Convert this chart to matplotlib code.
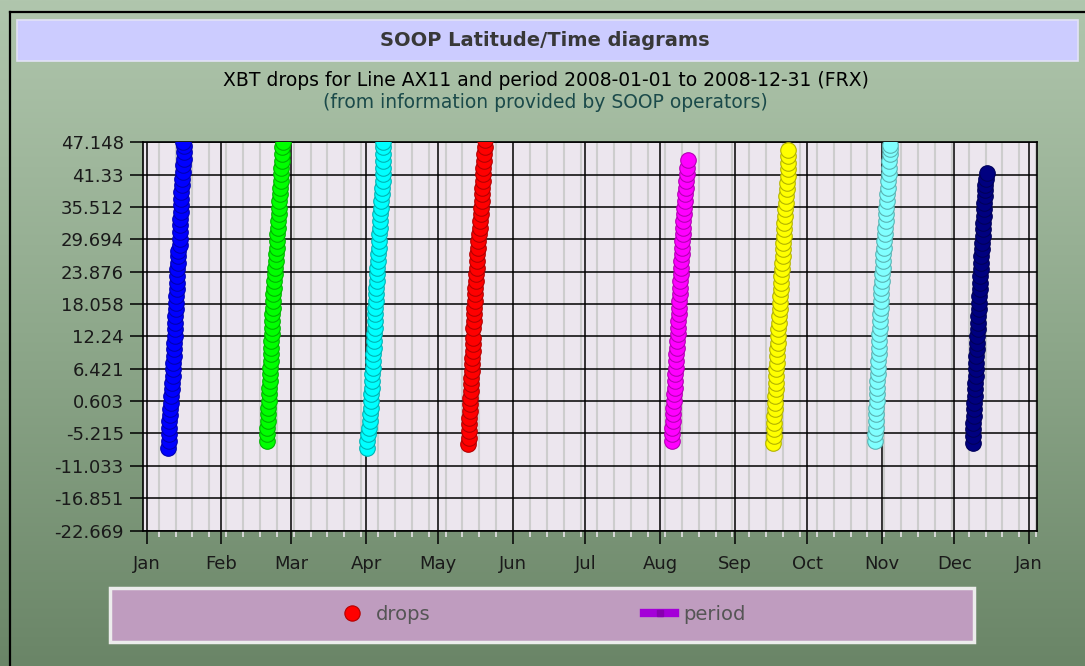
import matplotlib
matplotlib.use('Agg')
import matplotlib.pyplot as plt
import matplotlib.dates as mdates
from matplotlib.patches import Rectangle
from matplotlib.lines import Line2D
from matplotlib.colors import LinearSegmentedColormap, to_rgb
import numpy as np
import pandas as pd

# XBT drops on line AX11, 2008: (days after 2008-01-01, latitude) for each drop, one list per crossing
start = pd.Timestamp('2008-01-01')

jan_drops = [(8.96, -7.8), (9.08, -6.6), (9.2, -5.4), (9.33, -4.2), (9.45, -3.0), (9.58, -1.9), (9.7, -0.9),
             (10.05, 0.3), (10.2, 1.5), (10.38, 2.7), (10.55, 3.9), (10.72, 5.1), (10.9, 6.3), (11.05, 7.5),
             (11.18, 8.7), (11.3, 9.9), (11.42, 11.1), (11.55, 12.3), (11.68, 13.5), (11.8, 14.7), (11.92, 15.9),
             (12.04, 17.1), (12.16, 18.3), (12.28, 19.5), (12.4, 20.7), (12.52, 21.9), (12.65, 23.1), (12.78, 24.3),
             (12.91, 25.5), (13.04, 26.7), (13.12, 27.6), (13.8, 28.6), (13.85, 29.8), (13.9, 31.0), (13.95, 32.2),
             (14.0, 33.4), (14.05, 34.6), (14.12, 35.8), (14.27, 37.0), (14.42, 38.2), (14.57, 39.4), (14.72, 40.6),
             (14.9, 41.8), (15.1, 43.0), (15.3, 44.2), (15.5, 45.4), (15.35, 46.4), (15.2, 47.2)]

feb_drops = [(49.78, -6.6), (49.93, -5.4), (50.09, -4.2), (50.25, -3.0), (50.4, -1.8), (50.52, -0.6), (50.63, 0.6),
             (50.75, 1.8), (50.87, 3.0), (51.0, 4.2), (51.12, 5.4), (51.25, 6.6), (51.38, 7.8), (51.51, 9.0),
             (51.64, 10.2), (51.77, 11.4), (51.88, 12.6), (51.98, 13.8), (52.08, 15.0), (52.19, 16.2), (52.29, 17.4),
             (52.4, 18.6), (52.5, 19.8), (52.75, 21.0), (53.0, 22.2), (53.27, 23.4), (53.42, 24.6), (53.58, 25.8),
             (53.74, 27.0), (53.9, 28.2), (54.04, 29.4), (54.2, 30.6), (54.37, 31.8), (54.54, 33.0), (54.7, 34.2),
             (54.88, 35.4), (55.05, 36.6), (55.22, 37.8), (55.39, 39.0), (55.55, 40.2), (55.72, 41.4), (55.89, 42.6),
             (56.05, 43.8), (56.17, 45.0), (56.3, 46.2), (56.41, 47.2)]

apr_drops = [(91.26, -7.8), (91.58, -6.6), (91.9, -5.4), (92.22, -4.2), (92.55, -3.0), (92.73, -1.8), (92.87, -0.6),
             (93.01, 0.6), (93.15, 1.8), (93.3, 3.0), (93.43, 4.2), (93.57, 5.4), (93.7, 6.6), (93.83, 7.8),
             (93.97, 9.0), (94.1, 10.2), (94.24, 11.4), (94.38, 12.6), (94.52, 13.8), (94.68, 15.0), (94.8, 16.2),
             (94.92, 17.4), (95.04, 18.6), (95.16, 19.8), (95.28, 21.0), (95.4, 22.2), (95.54, 23.4), (95.7, 24.6),
             (95.86, 25.8), (96.04, 27.0), (96.18, 28.2), (96.32, 29.4), (96.47, 30.6), (96.61, 31.8), (96.76, 33.0),
             (96.95, 34.2), (97.15, 35.4), (97.35, 36.6), (97.54, 37.8), (97.7, 39.0), (97.87, 40.2), (98.04, 41.4),
             (98.15, 42.6), (98.1, 43.8), (98.05, 45.0), (97.98, 46.2), (97.9, 47.2)]

may_drops = [(133.4, -7.2), (133.51, -6.0), (133.62, -4.8), (133.73, -3.6), (133.85, -2.4), (133.96, -1.2),
             (134.07, 0.0), (134.21, 1.2), (134.35, 2.4), (134.49, 3.6), (134.63, 4.8), (134.77, 6.0), (134.91, 7.2),
             (135.06, 8.4), (135.22, 9.6), (135.37, 10.8), (135.5, 12.0), (135.45, 13.8), (135.6, 15.0),
             (135.76, 16.2), (135.91, 17.4), (136.07, 18.6), (136.25, 19.8), (136.4, 21.0), (136.54, 22.2),
             (136.68, 23.4), (136.82, 24.6), (136.96, 25.8), (137.18, 27.0), (137.4, 28.2), (137.62, 29.4),
             (137.84, 30.6), (138.07, 31.8), (138.33, 33.0), (138.53, 34.2), (138.73, 35.4), (138.93, 36.6),
             (139.07, 37.8), (139.2, 39.0), (139.35, 40.2), (139.5, 41.4), (139.65, 42.6), (139.82, 43.8),
             (140.0, 45.0), (140.15, 46.2), (140.3, 47.5)]

aug_drops = [(217.78, -6.6), (217.92, -5.4), (218.05, -4.2), (218.2, -3.0), (218.33, -1.8), (218.5, -0.6),
             (218.66, 0.6), (218.8, 1.8), (218.97, 3.0), (219.12, 4.2), (219.27, 5.4), (219.42, 6.6), (219.56, 7.8),
             (219.72, 9.0), (219.88, 10.2), (220.03, 11.4), (220.2, 12.6), (220.37, 13.8), (220.5, 15.0),
             (220.62, 16.2), (220.76, 17.4), (220.9, 18.6), (221.04, 19.8), (221.2, 21.0), (221.35, 22.2),
             (221.5, 23.4), (221.65, 24.6), (221.8, 25.8), (221.94, 27.0), (222.08, 28.2), (222.22, 29.4),
             (222.35, 30.6), (222.5, 31.8), (222.62, 33.0), (222.8, 34.2), (222.97, 35.4), (223.15, 36.6),
             (223.35, 37.8), (223.55, 39.0), (223.8, 40.2), (224.05, 41.4), (224.3, 42.6), (224.66, 44.0)]

sep_drops = [(259.93, -6.9), (260.05, -5.7), (260.17, -4.5), (260.28, -3.3), (260.4, -2.1), (260.51, -0.9),
             (260.63, 0.3), (260.74, 1.5), (260.85, 2.7), (260.96, 3.9), (261.07, 5.1), (261.18, 6.3), (261.29, 7.5),
             (261.42, 8.7), (261.58, 9.9), (261.74, 11.1), (261.9, 12.3), (262.06, 13.5), (262.22, 14.7),
             (262.37, 15.9), (262.51, 17.1), (262.65, 18.3), (262.79, 19.5), (262.93, 20.7), (263.06, 21.9),
             (263.22, 23.1), (263.42, 24.3), (263.61, 25.5), (263.8, 26.7), (264.0, 27.9), (264.15, 29.1),
             (264.29, 30.3), (264.43, 31.5), (264.57, 32.7), (264.71, 33.9), (264.9, 35.1), (265.12, 36.3),
             (265.33, 37.5), (265.55, 38.7), (265.76, 39.9), (265.97, 41.1), (266.15, 42.3), (266.17, 43.5),
             (266.18, 44.7), (266.15, 45.8)]

nov_drops = [(302.12, -6.6), (302.24, -5.4), (302.36, -4.2), (302.48, -3.0), (302.6, -1.8), (302.72, -0.6),
             (302.85, 0.6), (302.95, 1.8), (303.05, 3.0), (303.16, 4.2), (303.26, 5.4), (303.36, 6.6), (303.46, 7.8),
             (303.58, 9.0), (303.7, 10.2), (303.82, 11.4), (303.94, 12.6), (304.06, 13.8), (304.17, 15.0),
             (304.29, 16.2), (304.41, 17.4), (304.53, 18.6), (304.65, 19.8), (304.77, 21.0), (304.89, 22.2),
             (305.05, 23.4), (305.24, 24.6), (305.43, 25.8), (305.62, 27.0), (305.82, 28.2), (305.98, 29.4),
             (306.15, 30.6), (306.32, 31.8), (306.49, 33.0), (306.66, 34.2), (306.82, 35.4), (307.0, 36.6),
             (307.2, 37.8), (307.4, 39.0), (307.6, 40.2), (307.75, 41.4), (307.9, 42.6), (308.05, 43.8),
             (308.25, 45.0), (308.33, 46.0), (308.34, 46.7)]

dec_drops = [(342.89, -6.9), (342.85, -5.7), (342.8, -4.5), (342.78, -3.3), (343.0, -2.1), (343.15, -0.9),
             (343.3, 0.3), (343.45, 1.5), (343.6, 2.7), (343.72, 3.9), (343.85, 5.1), (343.98, 6.3), (344.1, 7.5),
             (344.22, 8.7), (344.35, 9.9), (344.47, 11.1), (344.6, 12.3), (344.73, 13.5), (344.86, 14.7),
             (344.99, 15.9), (345.12, 17.1), (345.25, 18.3), (345.38, 19.5), (345.52, 20.7), (345.66, 21.9),
             (345.8, 23.1), (345.94, 24.3), (346.08, 25.5), (346.24, 26.7), (346.4, 27.9), (346.56, 29.1),
             (346.72, 30.3), (346.88, 31.5), (347.04, 32.7), (347.2, 33.9), (347.36, 35.1), (347.52, 36.3),
             (347.68, 37.5), (347.8, 38.5), (347.7, 39.5), (348.1, 40.5), (348.4, 41.6)]

cruise_colors = ['#0000ff', '#00ff00', '#00ffff', '#ff0000', '#ff00ff', '#ffff00', '#80ffff', '#000080']

ytick_values = [47.148, 41.33, 35.512, 29.694, 23.876, 18.058, 12.24, 6.421, 0.603,
                -5.215, -11.033, -16.851, -22.669]
ytick_labels = ['47.148', '41.33', '35.512', '29.694', '23.876', '18.058', '12.24', '6.421', '0.603',
                '-5.215', '-11.033', '-16.851', '-22.669']

W, H = 1085, 666


def fx(x):
    return x / W


def fy(y):
    return 1 - y / H


def darker(c):
    return tuple(v * 0.7 for v in to_rgb(c))


fig = plt.figure(figsize=(W / 100, H / 100), dpi=100)

# green gradient background
bg = fig.add_axes([0, 0, 1, 1], zorder=-10)
grad = np.linspace(0, 1, 256).reshape(-1, 1)
cmap = LinearSegmentedColormap.from_list('bg', ['#b0c6ad', '#8ea88b', '#6a8567'])
bg.imshow(grad, aspect='auto', cmap=cmap, extent=[0, 1, 0, 1], origin='upper')
bg.axis('off')

# panel border (only left and top are visible)
fig.add_artist(Line2D([fx(9.5), fx(9.5)], [fy(12), 0], color='black', lw=1.6))
fig.add_artist(Line2D([fx(9.5), 1], [fy(12), fy(12)], color='black', lw=1.6))

# title bar
fig.add_artist(Rectangle((fx(17), fy(61)), (1078 - 17) / W, 41 / H, transform=fig.transFigure,
                         facecolor='#ccccff', edgecolor='#e2e2f6', lw=1.2))
fig.text(fx(545), fy(41), 'SOOP Latitude/Time diagrams', ha='center', va='center',
         fontsize=14, fontweight='bold', color='#383838')
fig.text(fx(546), fy(80), 'XBT drops for Line AX11 and period 2008-01-01 to 2008-12-31 (FRX)',
         ha='center', va='center', fontsize=13.5, color='black')
fig.text(fx(545), fy(103), '(from information provided by SOOP operators)',
         ha='center', va='center', fontsize=13.5, color='#1b4a4a')

# plot area
ax = fig.add_axes([fx(143.3), fy(530.7), (1036.7 - 143.3) / W, (530.7 - 141.7) / H])
ax.set_facecolor('#ece6ee')

cruises = [jan_drops, feb_drops, apr_drops, may_drops, aug_drops, sep_drops, nov_drops, dec_drops]
for drops, c in zip(cruises, cruise_colors):
    days, lats = zip(*drops)
    dates = start + pd.to_timedelta(list(days), unit='D')
    ax.plot(dates, lats, 'o', ls='none', ms=11.2, mfc=c, mec=darker(c), mew=0.8, zorder=3)

ax.set_xlim(start + pd.Timedelta(days=-1.4), start + pd.Timedelta(days=369.2))
ax.set_ylim(-22.7, 47.24)

ax.xaxis.set_major_locator(mdates.MonthLocator())
ax.xaxis.set_major_formatter(mdates.DateFormatter('%b'))
ax.xaxis.set_minor_locator(mdates.WeekdayLocator(byweekday=mdates.SU))
ax.set_yticks(ytick_values)
ax.set_yticklabels(ytick_labels)

ax.set_axisbelow(True)
ax.grid(which='minor', axis='x', color='#cdcdcd', lw=1.5)
ax.grid(which='major', axis='both', color='black', lw=1.1)

ax.tick_params(which='major', direction='out', length=9.5, width=1.1, color='black',
               labelsize=13, labelcolor='#1a1a1a')
ax.tick_params(axis='x', which='major', pad=8)
ax.tick_params(axis='y', which='major', pad=4.5)
ax.tick_params(axis='x', which='minor', direction='out', length=4.5, width=1.4, color='#d8d8d8')
for s in ax.spines.values():
    s.set_color('black')
    s.set_linewidth(1.2)

# legend box
fig.add_artist(Rectangle((fx(110), fy(641.5)), (974 - 110) / W, (641.5 - 588) / H, transform=fig.transFigure,
                         facecolor='#bf9cbf', edgecolor='#ececec', lw=2.5))
handles = [Line2D([], [], marker='o', ls='none', ms=11, mfc='#ff0000', mec=darker('#ff0000'), mew=0.8),
           Line2D([], [], color='#a400d8', lw=6, marker='s', ms=5, mfc='#8800b0', mec='#8800b0')]
fig.legend(handles, ['drops', 'period'], loc='center', bbox_to_anchor=(fx(541), fy(614)), ncol=2,
           frameon=False, fontsize=14, labelcolor='#555555', handlelength=1.6, handletextpad=0.4,
           columnspacing=11.0)

fig.savefig('out.png', dpi=100)
